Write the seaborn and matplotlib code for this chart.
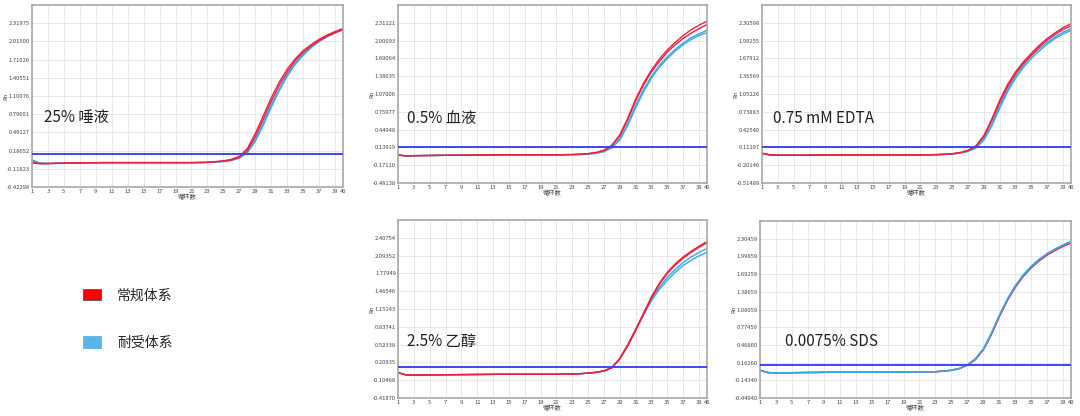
import numpy as np
import pandas as pd
import matplotlib
matplotlib.use("Agg")
import matplotlib.pyplot as plt
from matplotlib.patches import Patch
import seaborn as sns

sns.set_style("white")
plt.rcParams['font.family'] = ['Noto Sans CJK SC', 'DejaVu Sans']

CYCLES = [1, 2, 3, 6, 10, 14, 18, 21, 23, 24, 25, 26, 27, 28, 29, 30, 31, 32, 33, 34, 35, 36, 37, 38, 39, 40]
XTICKS = [1, 3, 5, 7, 9, 11, 13, 15, 17, 19, 21, 23, 25, 27, 29, 31, 33, 35, 37, 39, 40]

titles = ["25% 唾液", "0.5% 血液", "0.75 mM EDTA", "2.5% 乙醇", "0.0075% SDS"]
thresholds = [0.125, 0.139, 0.112, 0.128, 0.123]

yticks_saliva = [-0.42298, -0.11823, 0.18652, 0.49127, 0.79601, 1.10076, 1.40551, 1.71026, 2.01500, 2.31975]
yticks_blood = [-0.48138, -0.17110, 0.13919, 0.44948, 0.75977, 1.07006, 1.38035, 1.69064, 2.00093, 2.31121]
yticks_edta = [-0.51489, -0.20146, 0.11197, 0.42540, 0.73883, 1.05226, 1.36569, 1.67912, 1.99255, 2.30598]
yticks_ethanol = [-0.41870, -0.10468, 0.20935, 0.52338, 0.83741, 1.15143, 1.46546, 1.77949, 2.09352, 2.40754]
yticks_sds = [-0.44940, -0.14340, 0.16260, 0.46860, 0.77459, 1.08059, 1.38659, 1.69259, 1.99859, 2.30459]

# 25% saliva
saliva_red_a = [-0.01, -0.03, -0.03, -0.02, -0.015, -0.015, -0.015, -0.015, -0.01, 0.0, 0.01, 0.03, 0.075, 0.19, 0.42, 0.71, 1.01, 1.28, 1.50, 1.69, 1.83, 1.94, 2.03, 2.10, 2.16, 2.21]
saliva_red_b = [-0.02, -0.035, -0.03, -0.02, -0.015, -0.015, -0.015, -0.015, -0.01, 0.002, 0.015, 0.04, 0.09, 0.22, 0.47, 0.77, 1.07, 1.33, 1.55, 1.72, 1.86, 1.96, 2.05, 2.12, 2.18, 2.23]
saliva_blue_a = [0.03, -0.02, -0.03, -0.02, -0.015, -0.015, -0.015, -0.015, -0.012, -0.005, 0.005, 0.02, 0.06, 0.15, 0.34, 0.61, 0.91, 1.19, 1.43, 1.63, 1.78, 1.91, 2.01, 2.09, 2.16, 2.22]
saliva_blue_b = [0.02, -0.025, -0.03, -0.02, -0.015, -0.015, -0.015, -0.015, -0.012, -0.003, 0.007, 0.025, 0.065, 0.16, 0.37, 0.65, 0.95, 1.22, 1.46, 1.65, 1.80, 1.92, 2.02, 2.10, 2.16, 2.21]

# 0.5% blood
blood_red_a = [0.01, -0.01, -0.005, 0.0, 0.005, 0.01, 0.01, 0.01, 0.015, 0.02, 0.03, 0.05, 0.09, 0.18, 0.36, 0.65, 0.98, 1.26, 1.49, 1.68, 1.84, 1.97, 2.09, 2.19, 2.27, 2.34]
blood_red_b = [0.01, -0.01, -0.005, 0.0, 0.005, 0.01, 0.01, 0.01, 0.015, 0.02, 0.03, 0.048, 0.085, 0.17, 0.34, 0.62, 0.95, 1.23, 1.46, 1.64, 1.80, 1.93, 2.04, 2.13, 2.21, 2.28]
blood_blue_a = [0.005, -0.01, -0.005, 0.0, 0.005, 0.01, 0.01, 0.01, 0.012, 0.016, 0.024, 0.04, 0.07, 0.14, 0.29, 0.55, 0.87, 1.15, 1.38, 1.57, 1.72, 1.85, 1.96, 2.05, 2.12, 2.18]
blood_blue_b = [0.005, -0.01, -0.005, 0.0, 0.005, 0.01, 0.01, 0.01, 0.012, 0.015, 0.022, 0.037, 0.065, 0.13, 0.27, 0.52, 0.83, 1.11, 1.35, 1.54, 1.69, 1.82, 1.93, 2.02, 2.09, 2.14]

# 0.75 mM EDTA
edta_red_a = [0.01, -0.02, -0.025, -0.025, -0.02, -0.02, -0.02, -0.02, -0.015, -0.01, 0.0, 0.02, 0.06, 0.14, 0.32, 0.61, 0.94, 1.22, 1.44, 1.62, 1.77, 1.91, 2.03, 2.13, 2.22, 2.29]
edta_red_b = [0.01, -0.02, -0.025, -0.025, -0.02, -0.02, -0.02, -0.02, -0.015, -0.01, 0.0, 0.018, 0.055, 0.13, 0.30, 0.58, 0.90, 1.18, 1.41, 1.59, 1.74, 1.88, 2.00, 2.10, 2.19, 2.25]
edta_blue_a = [0.0, -0.02, -0.025, -0.025, -0.02, -0.02, -0.02, -0.02, -0.016, -0.012, -0.003, 0.015, 0.045, 0.11, 0.26, 0.52, 0.84, 1.13, 1.37, 1.56, 1.72, 1.85, 1.96, 2.06, 2.14, 2.20]
edta_blue_b = [0.0, -0.02, -0.025, -0.025, -0.02, -0.02, -0.02, -0.02, -0.016, -0.012, -0.004, 0.012, 0.04, 0.10, 0.24, 0.49, 0.80, 1.09, 1.33, 1.52, 1.68, 1.81, 1.93, 2.03, 2.11, 2.17]

# 2.5% ethanol
ethanol_red_a = [0.03, -0.01, -0.015, -0.01, -0.005, 0.0, 0.0, 0.0, 0.003, 0.01, 0.02, 0.035, 0.06, 0.12, 0.28, 0.52, 0.79, 1.08, 1.37, 1.61, 1.80, 1.95, 2.07, 2.17, 2.26, 2.34]
ethanol_red_b = [0.03, -0.01, -0.015, -0.01, -0.005, 0.0, 0.0, 0.0, 0.003, 0.01, 0.02, 0.034, 0.058, 0.115, 0.27, 0.50, 0.77, 1.06, 1.35, 1.59, 1.78, 1.93, 2.05, 2.15, 2.24, 2.32]
ethanol_blue_a = [0.03, -0.01, -0.015, -0.01, -0.005, 0.0, 0.0, 0.0, 0.003, 0.01, 0.02, 0.035, 0.06, 0.12, 0.28, 0.52, 0.79, 1.07, 1.33, 1.54, 1.71, 1.85, 1.97, 2.07, 2.15, 2.22]
ethanol_blue_b = [0.03, -0.01, -0.015, -0.01, -0.005, 0.0, 0.0, 0.0, 0.003, 0.01, 0.02, 0.034, 0.058, 0.118, 0.27, 0.51, 0.78, 1.05, 1.30, 1.50, 1.66, 1.80, 1.92, 2.01, 2.09, 2.15]

# 0.0075% SDS
sds_red_a = [0.03, -0.01, -0.015, -0.01, -0.005, -0.005, -0.003, 0.0, 0.005, 0.015, 0.03, 0.06, 0.12, 0.22, 0.39, 0.65, 0.96, 1.24, 1.47, 1.66, 1.81, 1.93, 2.03, 2.11, 2.18, 2.24]
sds_red_b = [0.03, -0.01, -0.015, -0.01, -0.005, -0.005, -0.003, 0.0, 0.005, 0.014, 0.028, 0.058, 0.115, 0.21, 0.38, 0.64, 0.95, 1.23, 1.46, 1.65, 1.80, 1.92, 2.02, 2.10, 2.17, 2.23]
sds_blue_a = [0.03, -0.01, -0.015, -0.01, -0.005, -0.005, -0.003, 0.0, 0.006, 0.016, 0.032, 0.062, 0.125, 0.23, 0.40, 0.67, 0.98, 1.26, 1.49, 1.68, 1.83, 1.95, 2.05, 2.13, 2.20, 2.26]
sds_blue_b = [0.03, -0.01, -0.015, -0.01, -0.005, -0.005, -0.003, 0.0, 0.005, 0.015, 0.03, 0.06, 0.12, 0.22, 0.39, 0.66, 0.97, 1.25, 1.48, 1.67, 1.82, 1.94, 2.04, 2.12, 2.19, 2.25]

panels = [
    (yticks_saliva, saliva_red_a, saliva_red_b, saliva_blue_a, saliva_blue_b),
    (yticks_blood, blood_red_a, blood_red_b, blood_blue_a, blood_blue_b),
    (yticks_edta, edta_red_a, edta_red_b, edta_blue_a, edta_blue_b),
    (yticks_ethanol, ethanol_red_a, ethanol_red_b, ethanol_blue_a, ethanol_blue_b),
    (yticks_sds, sds_red_a, sds_red_b, sds_blue_a, sds_blue_b),
]

# pixel boxes (left, top, right, bottom) on a 1080x416 canvas
W, H = 1080, 416
boxes = [(32, 5, 343, 187), (398, 5, 707, 183), (762, 5, 1071, 183),
         (398, 220, 707, 398), (760, 221, 1071, 398)]
text_pos = [(0.04, 0.38), (0.03, 0.365), (0.036, 0.365), (0.03, 0.32), (0.08, 0.32)]

RED = "#f0203c"
BLUE = "#3aa8e8"
palette = {"常规体系": RED, "耐受体系": BLUE}

fig = plt.figure(figsize=(W / 100, H / 100), dpi=100)

for i, (yt, ra, rb, ba, bb) in enumerate(panels):
    l, t, r, b = boxes[i]
    ax = fig.add_axes([l / W, 1 - b / H, (r - l) / W, (b - t) / H])
    rows = []
    for system, rep, vals in [("耐受体系", "a", ba), ("耐受体系", "b", bb),
                              ("常规体系", "a", ra), ("常规体系", "b", rb)]:
        for c, v in zip(CYCLES, vals):
            rows.append({"cycle": c, "Rn": v, "system": system, "rep": system + rep})
    df = pd.DataFrame(rows)
    order = ["耐受体系", "常规体系"] if i != 4 else ["常规体系", "耐受体系"]
    for system in order:
        sub = df[df["system"] == system]
        sns.lineplot(data=sub, x="cycle", y="Rn", units="rep", estimator=None,
                     color=palette[system], lw=1.0, ax=ax, legend=False)
    ax.axhline(thresholds[i], color="#3c46f0", lw=1.4, zorder=5)

    step = yt[-1] - yt[-2]
    ax.set_xlim(1, 40)
    ax.set_ylim(yt[0], yt[-1] + step)
    ax.set_xticks(XTICKS)
    ax.set_yticks(yt)
    ax.set_yticklabels([f"{v:.5f}" for v in yt])
    ax.tick_params(labelsize=4.2, colors="#444444", length=0, pad=1.5)
    ax.grid(True, color="#e4e4e4", lw=0.6)
    ax.set_axisbelow(True)
    for s in ax.spines.values():
        s.set_color("#a8a8a8")
        s.set_linewidth(1.2)
    ax.set_xlabel("循环数", fontsize=4.5, labelpad=-0.5, color="#444444")
    ax.set_ylabel("")
    ax.text(-0.083, 0.5, "Rn", transform=ax.transAxes, rotation=90,
            fontsize=4.2, color="#444444", ha="center", va="center")
    ax.text(text_pos[i][0], text_pos[i][1], titles[i], transform=ax.transAxes,
            fontsize=11, color="#222222", va="center", ha="left")

handles = [Patch(facecolor="#ff0000", edgecolor="#555555", lw=0.6),
           Patch(facecolor="#5ab4e6", edgecolor="#5ab4e6", lw=0.6)]
fig.legend(handles, ["常规体系", "耐受体系"], loc="upper left",
           bbox_to_anchor=(70 / W, 1 - 276 / H), frameon=False, fontsize=10,
           handlelength=1.3, handleheight=0.9, handletextpad=1.2, labelspacing=2.4)

fig.savefig("out.png", dpi=100)
